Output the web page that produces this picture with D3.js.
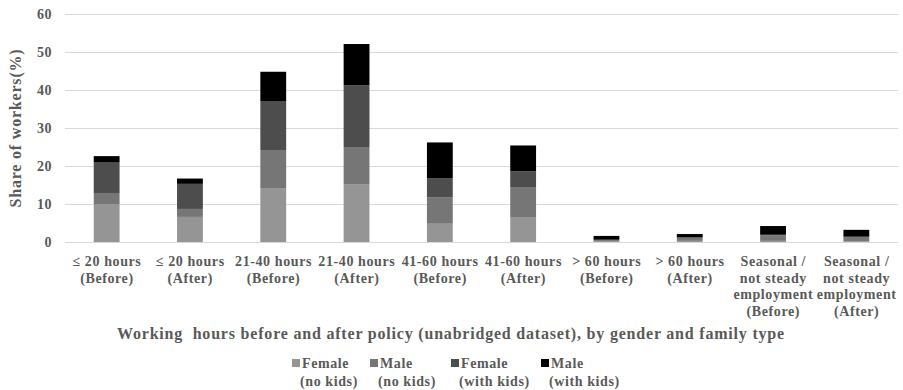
<!DOCTYPE html>
<html>
<head>
<meta charset="utf-8">
<script src="https://cdn.jsdelivr.net/npm/d3@7"></script>
</head>
<body style="margin:0;background:#fff">
<div id="chart"></div>
<script>
// Category labels (one entry per line of the label)
const categories = [
  ["≤ 20 hours", "(Before)"],
  ["≤ 20 hours", "(After)"],
  ["21-40 hours", "(Before)"],
  ["21-40 hours", "(After)"],
  ["41-60 hours", "(Before)"],
  ["41-60 hours", "(After)"],
  ["> 60 hours", "(Before)"],
  ["> 60 hours", "(After)"],
  ["Seasonal /", "not steady", "employment", "(Before)"],
  ["Seasonal /", "not steady", "employment", "(After)"]
];

// Share of workers (%) per group
const femaleNoKids   = [10.0, 6.6, 14.2, 15.1, 4.8, 6.4, 0.1, 0.3, 0.3, 0.2];
const maleNoKids     = [2.9, 2.1, 10.0, 9.9, 7.0, 7.9, 0.4, 0.8, 1.4, 1.1];
const femaleWithKids = [8.0, 6.6, 12.9, 16.2, 5.0, 4.3, 0.1, 0.1, 0.2, 0.1];
const maleWithKids   = [1.7, 1.4, 7.7, 10.9, 9.4, 6.8, 1.0, 0.9, 2.3, 1.8];

const seriesNames = [
  ["Female", "(no kids)"],
  ["Male", "(no kids)"],
  ["Female", "(with kids)"],
  ["Male", "(with kids)"]
];
const yTicks = [0, 10, 20, 30, 40, 50, 60];

const colors = ["#959595", "#767676", "#4d4d4d", "#000000"];
const TXT = "#595959";

// apply the serif bold text style directly on a text selection
function serif(sel, size, spacing) {
  return sel.style("font-family", "'Liberation Serif'")
    .style("font-weight", "bold")
    .style("font-size", size + "px")
    .style("letter-spacing", (spacing || 0) + "px")
    .attr("fill", TXT);
}

const W = 903, H = 390;
const margin = { left: 65, right: 5, top: 14, bottom: 148 };

const svg = d3.select("#chart").append("svg")
  .attr("width", W).attr("height", H);

const x = d3.scaleBand()
  .domain(d3.range(categories.length))
  .range([margin.left, W - margin.right])
  .paddingInner(0.69).paddingOuter(0.345);

const y = d3.scaleLinear()
  .domain([0, 60])
  .range([H - margin.bottom, margin.top]);

// Gridlines
svg.append("g")
  .selectAll("line")
  .data(yTicks)
  .join("line")
  .attr("x1", margin.left).attr("x2", W - margin.right)
  .attr("y1", d => Math.round(y(d)) + 0.5).attr("y2", d => Math.round(y(d)) + 0.5)
  .attr("stroke", "#d9d9d9").attr("stroke-width", 1);

// Y axis tick labels
const yAxis = d3.axisLeft(y).tickValues(yTicks).tickSize(0).tickPadding(13);
const gy = svg.append("g").attr("transform", `translate(${margin.left},0)`).call(yAxis);
gy.select(".domain").remove();
serif(gy.selectAll("text"), 14, 0.5);

// Stacked bars
const rows = categories.map((c, i) => ({
  i, a: femaleNoKids[i], b: maleNoKids[i], c: femaleWithKids[i], d: maleWithKids[i]
}));
const stack = d3.stack().keys(["a", "b", "c", "d"]);
const layers = stack(rows);

svg.append("g")
  .selectAll("g")
  .data(layers)
  .join("g")
  .attr("fill", (d, k) => colors[k])
  .selectAll("rect")
  .data(d => d)
  .join("rect")
  .attr("x", d => x(d.data.i))
  .attr("width", x.bandwidth())
  .attr("y", d => y(d[1]))
  .attr("height", d => y(d[0]) - y(d[1]));

// X category labels
const xl = svg.append("g");
categories.forEach((lines, i) => {
  const cx = x(i) + x.bandwidth() / 2 + 0.3;
  const t = serif(xl.append("text").attr("text-anchor", "middle"), 14, 0.6);
  lines.forEach((ln, j) => {
    t.append("tspan").attr("x", cx).attr("y", 266 + j * 16.6).text(ln);
  });
});

// Y axis title
serif(svg.append("text"), 16, 0.8)
  .attr("transform", `translate(21,${(y(0) + y(60)) / 2}) rotate(-90)`)
  .attr("text-anchor", "middle")
  .text("Share of workers(%)");

// X axis title
serif(svg.append("text"), 16, 0.8)
  .attr("x", 451).attr("y", 339)
  .attr("text-anchor", "middle")
  .style("white-space", "pre")
  .text("Working  hours before and after policy (unabridged dataset), by gender and family type");

// Legend
const legendX = [292, 370, 451, 541];
const leg = svg.append("g");
seriesNames.forEach((nm, k) => {
  leg.append("rect")
    .attr("x", legendX[k]).attr("y", 359)
    .attr("width", 8).attr("height", 8)
    .attr("fill", colors[k]);
  serif(leg.append("text"), 14, 0.6)
    .attr("x", legendX[k] + 10).attr("y", 368)
    .text(nm[0]);
  serif(leg.append("text"), 14, 0.6)
    .attr("x", legendX[k] + 8).attr("y", 386)
    .text(nm[1]);
});
</script>
</body>
</html>
